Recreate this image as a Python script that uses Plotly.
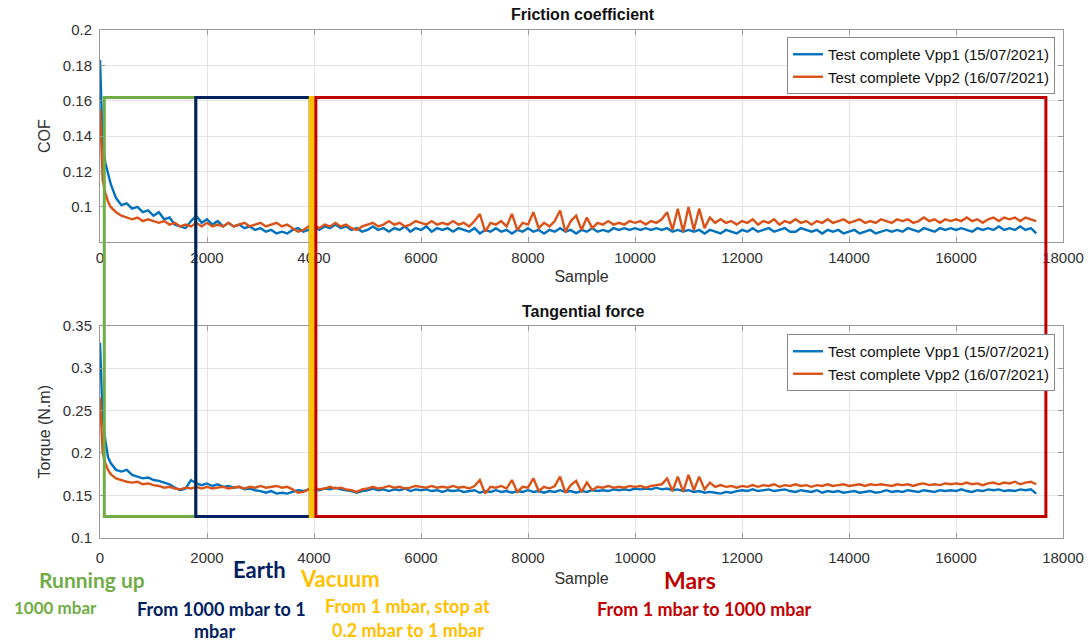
import plotly.graph_objects as go

W, H = 1090, 644

# ---------------- data ----------------
sample = [0, 20, 50, 100, 150, 200, 300, 400, 500, 600, 700, 800, 900] + list(range(1000, 17600, 100))

cof_vpp1 = [
    0.183, 0.160, 0.135, 0.125, 0.118, 0.113, 0.105, 0.101, 0.102, 0.099, 0.100, 0.097, 0.098,
    0.095, 0.097, 0.093, 0.094, 0.090, 0.089, 0.088, 0.092, 0.095, 0.091,
    0.093, 0.090, 0.092, 0.089, 0.091, 0.089, 0.090, 0.088, 0.089, 0.087,
    0.088, 0.086, 0.087, 0.085, 0.086, 0.085, 0.087, 0.088, 0.086, 0.087,
    0.089, 0.087, 0.089, 0.088, 0.090, 0.088, 0.089, 0.087, 0.088, 0.086,
    0.087, 0.089, 0.087, 0.088, 0.086, 0.088, 0.087, 0.089, 0.086, 0.088,
    0.087, 0.089, 0.086, 0.088, 0.087, 0.088, 0.086, 0.088, 0.087, 0.086,
    0.088, 0.085, 0.087, 0.086, 0.088, 0.086, 0.087, 0.085, 0.087, 0.086,
    0.088, 0.086, 0.087, 0.085, 0.087, 0.086, 0.088, 0.086, 0.087, 0.085,
    0.087, 0.086, 0.088, 0.086, 0.087, 0.086, 0.088, 0.087, 0.088, 0.087,
    0.088, 0.087, 0.088, 0.087, 0.088, 0.087, 0.088, 0.086, 0.087, 0.086,
    0.087, 0.086, 0.087, 0.085, 0.087, 0.086, 0.085, 0.087, 0.086, 0.085,
    0.087, 0.086, 0.088, 0.086, 0.087, 0.088, 0.086, 0.087, 0.088, 0.086,
    0.086, 0.088, 0.087, 0.086, 0.087, 0.085, 0.087, 0.086, 0.087, 0.085,
    0.086, 0.087, 0.085, 0.086, 0.087, 0.085, 0.086, 0.087, 0.086, 0.087,
    0.086, 0.088, 0.087, 0.086, 0.088, 0.087, 0.086, 0.088, 0.087, 0.088,
    0.087, 0.088, 0.087, 0.086, 0.088, 0.087, 0.088, 0.087, 0.089, 0.087,
    0.088, 0.087, 0.089, 0.087, 0.088, 0.085,
]

cof_vpp2 = [
    0.155, 0.135, 0.115, 0.108, 0.103, 0.100, 0.097, 0.095, 0.094, 0.093, 0.094, 0.092, 0.093,
    0.092, 0.091, 0.092, 0.090, 0.091, 0.089, 0.090, 0.089, 0.091, 0.089,
    0.091, 0.089, 0.090, 0.089, 0.091, 0.089, 0.090, 0.091, 0.089, 0.090,
    0.091, 0.089, 0.090, 0.091, 0.089, 0.090, 0.088, 0.086, 0.087, 0.089,
    0.090, 0.088, 0.090, 0.089, 0.091, 0.089, 0.090, 0.088, 0.087, 0.089,
    0.090, 0.091, 0.089, 0.090, 0.092, 0.090, 0.091, 0.089, 0.090, 0.092,
    0.091, 0.090, 0.092, 0.090, 0.091, 0.090, 0.092, 0.090, 0.091, 0.089,
    0.092, 0.096, 0.086, 0.091, 0.090, 0.092, 0.089, 0.096, 0.087, 0.091,
    0.090, 0.097, 0.088, 0.091, 0.089, 0.092, 0.098, 0.086, 0.092, 0.095,
    0.087, 0.094, 0.088, 0.091, 0.090, 0.092, 0.090, 0.091, 0.090, 0.092,
    0.091, 0.092, 0.090, 0.092, 0.091, 0.093, 0.097, 0.087, 0.099, 0.086,
    0.100, 0.087, 0.099, 0.088, 0.094, 0.091, 0.093, 0.091, 0.092, 0.090,
    0.092, 0.091, 0.093, 0.090, 0.092, 0.091, 0.093, 0.090, 0.092, 0.091,
    0.093, 0.091, 0.092, 0.090, 0.092, 0.091, 0.093, 0.091, 0.092, 0.093,
    0.091, 0.092, 0.093, 0.091, 0.092, 0.091, 0.093, 0.092, 0.091, 0.093,
    0.092, 0.093, 0.091, 0.092, 0.094, 0.092, 0.093, 0.091, 0.093, 0.092,
    0.093, 0.092, 0.094, 0.092, 0.093, 0.091, 0.093, 0.094, 0.092, 0.094,
    0.093, 0.094, 0.092, 0.094, 0.093, 0.092,
]

torque_vpp1 = [
    0.330, 0.290, 0.240, 0.215, 0.195, 0.188, 0.180, 0.178, 0.180, 0.174, 0.172, 0.170, 0.171,
    0.168, 0.167, 0.165, 0.163, 0.159, 0.156, 0.158, 0.168, 0.164, 0.162,
    0.164, 0.161, 0.163, 0.160, 0.161, 0.159, 0.160, 0.157, 0.158, 0.156,
    0.155, 0.153, 0.155, 0.152, 0.153, 0.152, 0.154, 0.156, 0.155, 0.157,
    0.158, 0.156, 0.158, 0.157, 0.159, 0.157, 0.156, 0.155, 0.153, 0.155,
    0.156, 0.158, 0.156, 0.157, 0.155, 0.157, 0.156, 0.158, 0.155, 0.157,
    0.156, 0.157, 0.155, 0.156, 0.154, 0.156, 0.155, 0.156, 0.154, 0.155,
    0.156, 0.153, 0.155, 0.154, 0.156, 0.154, 0.155, 0.153, 0.155, 0.154,
    0.156, 0.154, 0.155, 0.153, 0.155, 0.154, 0.156, 0.154, 0.155, 0.153,
    0.155, 0.154, 0.156, 0.155, 0.156, 0.155, 0.157, 0.156, 0.157, 0.156,
    0.158, 0.157, 0.158, 0.157, 0.159, 0.157, 0.158, 0.156, 0.157, 0.155,
    0.156, 0.154, 0.155, 0.153, 0.154, 0.153, 0.152, 0.154, 0.153, 0.155,
    0.156, 0.155, 0.157, 0.155, 0.156, 0.157, 0.155, 0.156, 0.157, 0.155,
    0.154, 0.156, 0.155, 0.154, 0.156, 0.153, 0.155, 0.154, 0.155, 0.153,
    0.154, 0.155, 0.153, 0.154, 0.155, 0.153, 0.154, 0.156, 0.154, 0.155,
    0.154, 0.156, 0.155, 0.154, 0.156, 0.155, 0.154, 0.156, 0.155, 0.156,
    0.155, 0.157, 0.155, 0.154, 0.156, 0.155, 0.157, 0.156, 0.157, 0.155,
    0.156, 0.155, 0.157, 0.156, 0.157, 0.152,
]

torque_vpp2 = [
    0.265, 0.230, 0.200, 0.188, 0.180, 0.175, 0.170, 0.168, 0.166, 0.165, 0.166, 0.163, 0.164,
    0.162, 0.161, 0.159, 0.160, 0.158, 0.157, 0.159, 0.158, 0.160, 0.158,
    0.160, 0.158, 0.159, 0.160, 0.158, 0.159, 0.160, 0.158, 0.160, 0.159,
    0.161, 0.159, 0.160, 0.161, 0.159, 0.160, 0.157, 0.153, 0.154, 0.157,
    0.159, 0.157, 0.158, 0.160, 0.158, 0.159, 0.157, 0.156, 0.154, 0.157,
    0.158, 0.160, 0.158, 0.159, 0.161, 0.159, 0.160, 0.158, 0.159, 0.161,
    0.160, 0.159, 0.161, 0.159, 0.160, 0.159, 0.161, 0.159, 0.160, 0.158,
    0.161, 0.168, 0.152, 0.160, 0.159, 0.161, 0.158, 0.168, 0.154, 0.160,
    0.159, 0.170, 0.155, 0.160, 0.158, 0.161, 0.172, 0.153, 0.162, 0.167,
    0.154, 0.165, 0.156, 0.160, 0.159, 0.161, 0.159, 0.160, 0.159, 0.161,
    0.160, 0.161, 0.159, 0.161, 0.162, 0.163, 0.170, 0.155, 0.172, 0.154,
    0.174, 0.156, 0.172, 0.157, 0.165, 0.160, 0.162, 0.160, 0.161, 0.159,
    0.161, 0.160, 0.162, 0.160, 0.162, 0.161, 0.163, 0.160, 0.162, 0.161,
    0.163, 0.161, 0.162, 0.160, 0.162, 0.161, 0.163, 0.161, 0.162, 0.163,
    0.161, 0.162, 0.163, 0.161, 0.163, 0.162, 0.163, 0.162, 0.161, 0.163,
    0.162, 0.163, 0.161, 0.163, 0.164, 0.162, 0.163, 0.162, 0.164, 0.163,
    0.164, 0.163, 0.165, 0.163, 0.164, 0.162, 0.164, 0.165, 0.163, 0.165,
    0.164, 0.166, 0.163, 0.165, 0.166, 0.163,
]

series_names = ["Test complete Vpp1 (15/07/2021)", "Test complete Vpp2 (16/07/2021)"]
x_ticks = [0, 2000, 4000, 6000, 8000, 10000, 12000, 14000, 16000, 18000]
x_ticktext = ["0", "2000", "4000", "6000", "8000", "10000", "12000", "14000", "16000", "18000"]
cof_ticks = [0.1, 0.12, 0.14, 0.16, 0.18, 0.2]
cof_ticktext = ["0.1", "0.12", "0.14", "0.16", "0.18", "0.2"]
torque_ticks = [0.1, 0.15, 0.2, 0.25, 0.3, 0.35]
torque_ticktext = ["0.1", "0.15", "0.2", "0.25", "0.3", "0.35"]

# phase windows (sample units)
phase_start = [80, 1790, 3930, 4035]
phase_end = [1790, 3930, 3985, 17680]

# ---------------- styling ----------------
C_BLUE = "#0072BD"
C_ORANGE = "#D95319"
PHASE_COLORS = ["#70AD47", "#002060", "#FFC000", "#C00000"]
FONT = "Arial, Liberation Sans, Helvetica, sans-serif"
ANN_FONT = "Lato, Open Sans, sans-serif"
AX_COL = "#9a9a9a"
GRID_COL = "#e3e3e3"
TXT_COL = "#303030"


def px(x):
    return x / W


def py(y):
    return 1 - y / H


fig = go.Figure()

for vals, col, name in [(cof_vpp1, C_BLUE, series_names[0]), (cof_vpp2, C_ORANGE, series_names[1])]:
    fig.add_trace(go.Scatter(x=sample, y=vals, mode="lines", name=name,
                             line=dict(color=col, width=2.4), xaxis="x", yaxis="y",
                             legend="legend"))
for vals, col, name in [(torque_vpp1, C_BLUE, series_names[0]), (torque_vpp2, C_ORANGE, series_names[1])]:
    fig.add_trace(go.Scatter(x=sample, y=vals, mode="lines", name=name,
                             line=dict(color=col, width=2.4), xaxis="x2", yaxis="y2",
                             legend="legend2"))

axis_common = dict(showline=True, linecolor=AX_COL, linewidth=1, mirror="ticks",
                   ticks="inside", ticklen=5, tickcolor=AX_COL, showgrid=True,
                   gridcolor=GRID_COL, zeroline=False, automargin=False,
                   tickfont=dict(family=FONT, size=15, color=TXT_COL))
title_font = dict(family=FONT, size=16, color=TXT_COL)

x_dom = [px(100), px(1063)]
fig.update_layout(
    template="none",
    width=W, height=H,
    margin=dict(l=0, r=0, t=0, b=0, autoexpand=False),
    paper_bgcolor="white", plot_bgcolor="white",
    showlegend=True,
    xaxis=dict(domain=x_dom, range=[0, 18000], tickvals=x_ticks, ticktext=x_ticktext, anchor="y",
               title=dict(text="Sample", font=title_font, standoff=5), ticklabelstandoff=2,
               **axis_common),
    yaxis=dict(domain=[py(242.3), py(30)], range=[0.08, 0.2], tickvals=cof_ticks, ticktext=cof_ticktext,
               anchor="x", ticklabelstandoff=4,
               title=dict(text="COF", font=title_font, standoff=8),
               **axis_common),
    xaxis2=dict(domain=x_dom, range=[0, 18000], tickvals=x_ticks, ticktext=x_ticktext, anchor="y2",
                title=dict(text="Sample", font=title_font, standoff=8), ticklabelstandoff=6,
                **axis_common),
    yaxis2=dict(domain=[py(537.7), py(325.7)], range=[0.1, 0.35], tickvals=torque_ticks,
                ticktext=torque_ticktext, anchor="x2", ticklabelstandoff=4,
                title=dict(text="Torque (N.m)", font=title_font, standoff=8),
                **axis_common),
    legend=dict(x=px(1055), y=py(37), xanchor="right", yanchor="top",
                bgcolor="white", bordercolor="#8a8a8a", borderwidth=1,
                font=dict(family=FONT, size=15, color="#111"), tracegroupgap=0,
                itemwidth=30),
    legend2=dict(x=px(1055), y=py(334), xanchor="right", yanchor="top",
                 bgcolor="white", bordercolor="#8a8a8a", borderwidth=1,
                 font=dict(family=FONT, size=15, color="#111"), tracegroupgap=0,
                 itemwidth=30),
)

# phase rectangles spanning both panels
for x0, x1, col in zip(phase_start, phase_end, PHASE_COLORS):
    fig.add_shape(type="rect", xref="x", yref="paper", x0=x0, x1=x1,
                  y0=py(516.5), y1=py(97.5), line=dict(color=col, width=3),
                  fillcolor="rgba(0,0,0,0)", layer="above")

# panel titles
fig.add_annotation(text="<b>Friction coefficient</b>", x=px(583), y=py(15), xref="paper", yref="paper",
                   showarrow=False, font=dict(family=FONT, size=16, color="#111"),
                   xanchor="center", yanchor="middle")
fig.add_annotation(text="<b>Tangential force</b>", x=px(583), y=py(311), xref="paper", yref="paper",
                   showarrow=False, font=dict(family=FONT, size=16, color="#111"),
                   xanchor="center", yanchor="middle")

# phase labels below the chart
labels = [
    ("<b>Running up</b>", 92, 579, 21, PHASE_COLORS[0]),
    ("<b>1000 mbar</b>", 55, 607, 17, PHASE_COLORS[0]),
    ("<b>Earth</b>", 259, 569, 22, PHASE_COLORS[1]),
    ("<b>From 1000 mbar to 1</b>", 221, 609, 18, PHASE_COLORS[1]),
    ("<b>mbar</b>", 214, 631, 18, PHASE_COLORS[1]),
    ("<b>Vacuum</b>", 340, 578, 22, PHASE_COLORS[2]),
    ("<b>From 1 mbar, stop at</b>", 407, 606, 18, PHASE_COLORS[2]),
    ("<b>0.2 mbar to 1 mbar</b>", 408, 630, 18, PHASE_COLORS[2]),
    ("<b>Mars</b>", 690, 580, 23, PHASE_COLORS[3]),
    ("<b>From 1 mbar to 1000 mbar</b>", 704, 609, 18, PHASE_COLORS[3]),
]
for text, x, y, size, col in labels:
    fig.add_annotation(text=text, x=px(x), y=py(y), xref="paper", yref="paper",
                       showarrow=False, font=dict(family=ANN_FONT, size=size, color=col),
                       xanchor="center", yanchor="middle")

fig.write_html("out.html")
